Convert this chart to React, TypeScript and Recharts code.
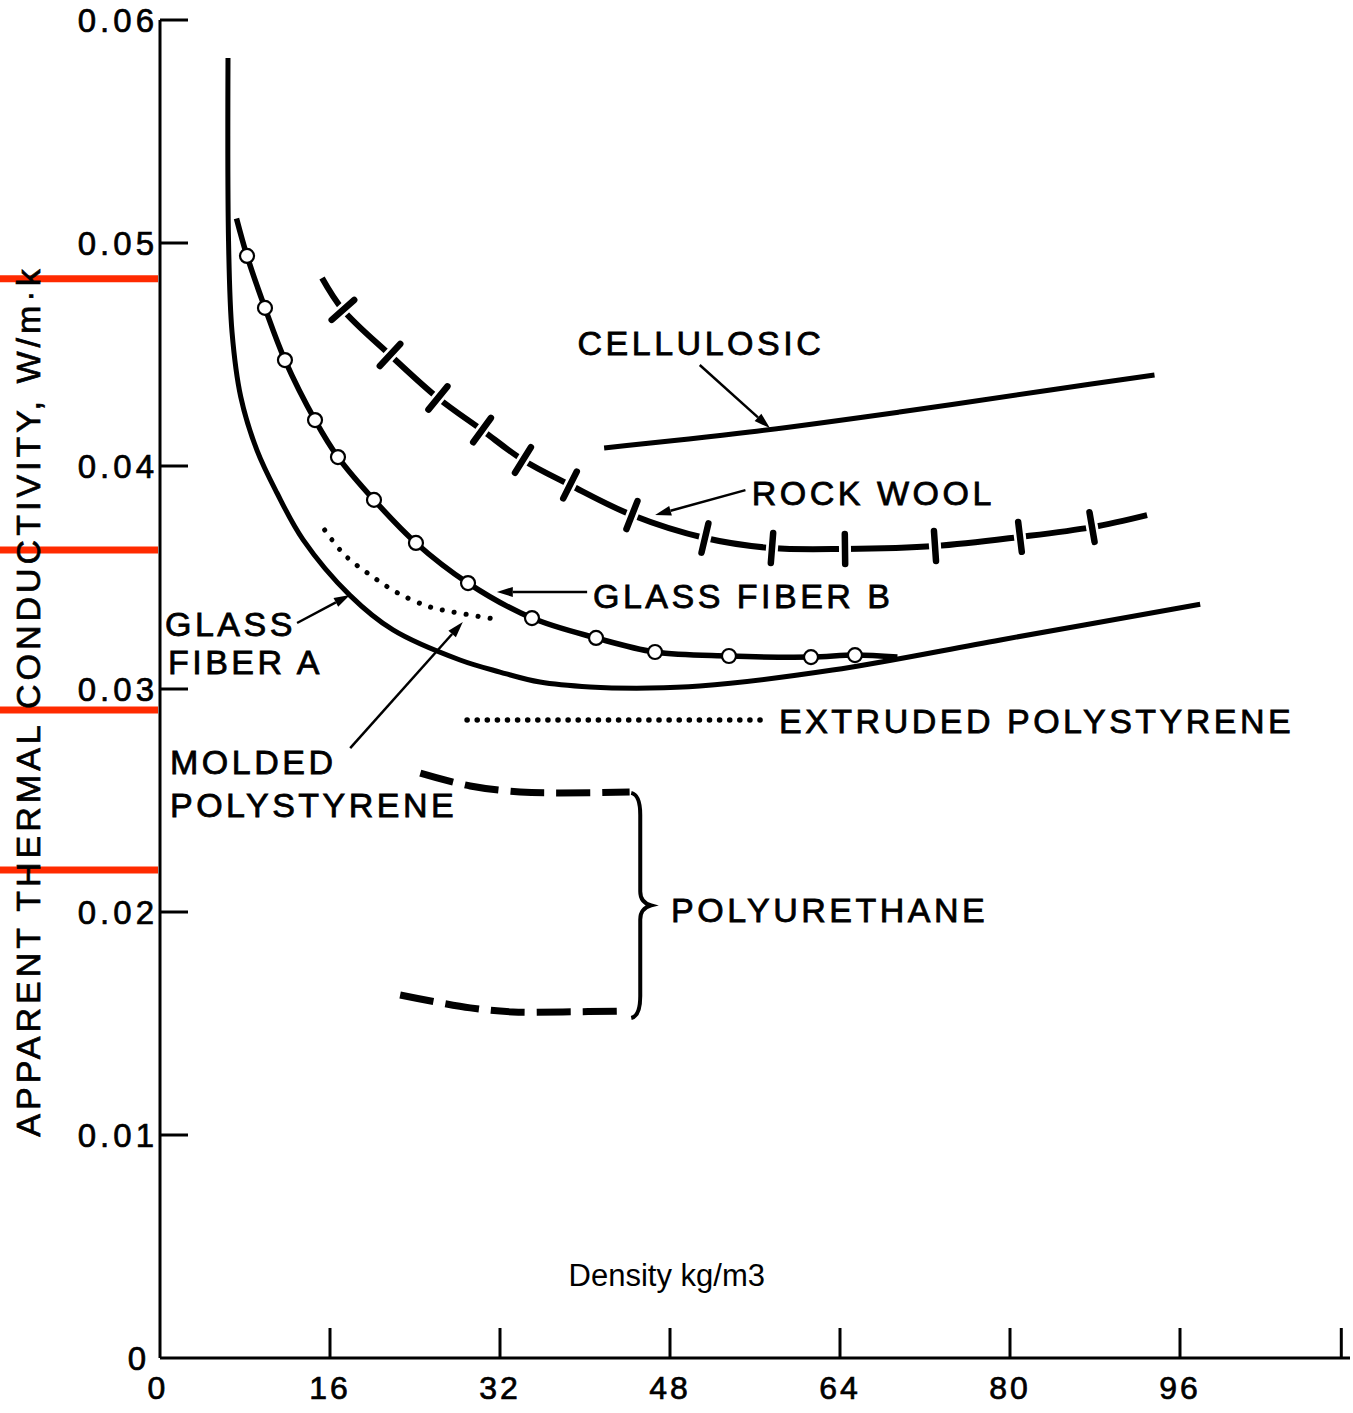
import { LineChart, Line, XAxis, YAxis, ReferenceLine, ReferenceDot } from "recharts";

const FONT = "'Liberation Sans', Arial, Helvetica, sans-serif";

// density (kg/m3) vs apparent thermal conductivity (W/m·K)
const glassA_x = [6.4, 6.45, 6.78, 7.6, 9.13, 11.0, 13.46, 17.88, 21.93, 28.24, 32, 35.76, 40.47, 46.1, 50.8, 63.3, 79.1, 97.9];
const glassA_y = [0.0583, 0.0501, 0.046, 0.0431, 0.0407, 0.0388, 0.0367, 0.0342, 0.03265, 0.0313, 0.03076, 0.03031, 0.03009, 0.03004, 0.03013, 0.03085, 0.0322, 0.0338];

const glassB_x = [7.2, 8.19, 9.88, 11.76, 14.59, 16.75, 20.14, 24.09, 28.99, 35.01, 41.04, 46.59, 53.55, 61.27, 65.41, 69.4];
const glassB_y = [0.0511, 0.04942, 0.04709, 0.04475, 0.04206, 0.0404, 0.03848, 0.03655, 0.03475, 0.03318, 0.03229, 0.03166, 0.03148, 0.03143, 0.03152, 0.03143];

const rockWool_x = [15.25, 17.22, 21.65, 26.16, 30.31, 34.16, 38.59, 44.42, 51.29, 57.6, 64.47, 72.94, 80.94, 87.72, 92.9];
const rockWool_y = [0.04843, 0.047, 0.04498, 0.04305, 0.04161, 0.04027, 0.03915, 0.0378, 0.03677, 0.03632, 0.03628, 0.03641, 0.03682, 0.03726, 0.0378];

const cellulosic_x = [41.8, 55.5, 69.6, 83.8, 93.6];
const cellulosic_y = [0.04081, 0.04152, 0.04242, 0.04341, 0.04408];

const molded_x = [15.5, 17.4, 19.8, 22.4, 25.4, 27.6, 32];
const molded_y = [0.03713, 0.036, 0.03511, 0.0343, 0.03368, 0.03345, 0.0331];

const extruded_x = [28.9, 57.4];
const extruded_y = [0.02861, 0.02861];

const puTop_x = [24.5, 29.2, 33.9, 37.6, 44.2];
const puTop_y = [0.02623, 0.02565, 0.02538, 0.02534, 0.02538];
const puBottom_x = [22.6, 29.2, 33.2, 37.9, 43.6];
const puBottom_y = [0.01628, 0.0157, 0.01552, 0.01552, 0.01556];

const xTicks = [0, 16, 32, 48, 64, 80, 96, 112];
const yTicks = [0, 0.01, 0.02, 0.03, 0.04, 0.05, 0.06];

// red marker bars at the left edge
const redMarks = [0.0484, 0.03623, 0.02906, 0.02188];

const labels = [
  { text: "CELLULOSIC", x: 39.3, y: 0.04552 },
  { text: "ROCK WOOL", x: 55.7, y: 0.03879 },
  { text: "GLASS FIBER B", x: 40.75, y: 0.03417 },
  { text: "GLASS", x: 0.47, y: 0.03291 },
  { text: "FIBER A", x: 0.75, y: 0.03121 },
  { text: "EXTRUDED POLYSTYRENE", x: 58.26, y: 0.02857 },
  { text: "MOLDED", x: 0.94, y: 0.02673 },
  { text: "POLYSTYRENE", x: 0.94, y: 0.0248 },
  { text: "POLYURETHANE", x: 48.1, y: 0.02009 },
];

const arrows = [
  { from: [50.8, 0.04453], to: [57.4, 0.0417] },
  { from: [55.1, 0.03892], to: [46.6, 0.0378] },
  { from: [40.2, 0.03435], to: [31.7, 0.03435] },
  { from: [12.9, 0.03296], to: [17.88, 0.03422] },
  { from: [17.9, 0.02735], to: [28.5, 0.033] },
];

const brace = { x: 45.2, top: 0.02534, bottom: 0.01525 };

const zip = (xs: number[], ys: number[]) => xs.map((x, i) => ({ x, y: ys[i] }));

// centripetal catmull-rom, works for the near vertical start of the glass fiber curve
const smooth = (ctx: any) => {
  let pts: number[][] = [];
  const d = (a: number[], b: number[]) => Math.sqrt(Math.hypot(b[0] - a[0], b[1] - a[1]));
  return {
    areaStart() {},
    areaEnd() {},
    lineStart() {
      pts = [];
    },
    point(x: number, y: number) {
      pts.push([+x, +y]);
    },
    lineEnd() {
      const n = pts.length;
      if (!n) return;
      ctx.moveTo(pts[0][0], pts[0][1]);
      for (let i = 0; i < n - 1; i++) {
        const p0 = pts[Math.max(i - 1, 0)];
        const p1 = pts[i];
        const p2 = pts[i + 1];
        const p3 = pts[Math.min(i + 2, n - 1)];
        const l01 = i > 0 ? d(p0, p1) : 0;
        const l12 = d(p1, p2);
        const l23 = i + 2 < n ? d(p2, p3) : 0;
        let c1 = p1;
        let c2 = p2;
        if (l01 > 1e-6) {
          const a = 2 * l01 * l01 + 3 * l01 * l12 + l12 * l12;
          const m = 3 * l01 * (l01 + l12);
          c1 = [0, 1].map((k) => (p1[k] * a - p0[k] * l12 * l12 + p2[k] * l01 * l01) / m);
        }
        if (l23 > 1e-6) {
          const b = 2 * l23 * l23 + 3 * l23 * l12 + l12 * l12;
          const m = 3 * l23 * (l23 + l12);
          c2 = [0, 1].map((k) => (p2[k] * b + p1[k] * l23 * l23 - p3[k] * l12 * l12) / m);
        }
        ctx.bezierCurveTo(c1[0], c1[1], c2[0], c2[1], p2[0], p2[1]);
      }
    },
  };
};

const OpenCircle = (p: any) => {
  const last = p.points ? p.points.length - 1 : -1;
  if (p.index === 0 || p.index === last) return <g key={p.key} />;
  return <circle key={p.key} cx={p.cx} cy={p.cy} r={7} fill="#fff" stroke="#000" strokeWidth={2.2} />;
};

const CrossTick = (p: any) => {
  const pts = p.points || [];
  const i = p.index;
  if (i === 0 || i === pts.length - 1 || !pts.length) return <g key={p.key} />;
  const a = pts[i - 1];
  const b = pts[i + 1];
  const dx = b.x - a.x;
  const dy = b.y - a.y;
  const len = Math.hypot(dx, dy) || 1;
  const tx = dx / len;
  const ty = dy / len;
  return (
    <g key={p.key}>
      <line x1={p.cx - tx * 6} y1={p.cy - ty * 6} x2={p.cx + tx * 6} y2={p.cy + ty * 6} stroke="#fff" strokeWidth={10} />
      <line x1={p.cx + ty * 15} y1={p.cy - tx * 15} x2={p.cx - ty * 15} y2={p.cy + tx * 15} stroke="#000" strokeWidth={6.5} strokeLinecap="round" />
    </g>
  );
};

const XTick = (p: any) => {
  const v = p.payload.value;
  return (
    <g>
      {v > 0 && <line x1={p.x} x2={p.x} y1={p.y} y2={p.y - 30} stroke="#000" strokeWidth={3} />}
      {v < 112 && (
        <text x={v === 0 ? p.x - 2 : p.x} y={p.y + 30} textAnchor="middle" dominantBaseline="central" fontFamily={FONT} fontSize={32} stroke="#000" strokeWidth={0.7} style={{ letterSpacing: 3 }} fill="#000">
          {v}
        </text>
      )}
    </g>
  );
};

const YTick = (p: any) => {
  const v = p.payload.value;
  return (
    <g>
      {v > 0 && <line x1={p.x} x2={p.x + 28} y1={p.y} y2={p.y} stroke="#000" strokeWidth={3} />}
      <text x={v === 0 ? p.x - 10 : p.x - 2} y={p.y} textAnchor="end" dominantBaseline="central" fontFamily={FONT} fontSize={33} stroke="#000" strokeWidth={0.7} style={{ letterSpacing: 4 }} fill="#000">
        {v === 0 ? "0" : v.toFixed(2)}
      </text>
    </g>
  );
};

const Arrow = (p: any) => {
  const dx = p.x2 - p.x1;
  const dy = p.y2 - p.y1;
  const len = Math.hypot(dx, dy) || 1;
  const ux = dx / len;
  const uy = dy / len;
  const bx = p.x2 - ux * 16;
  const by = p.y2 - uy * 16;
  return (
    <g>
      <line x1={p.x1} y1={p.y1} x2={bx} y2={by} stroke="#000" strokeWidth={2.5} />
      <polygon points={`${p.x2},${p.y2} ${bx - uy * 5},${by + ux * 5} ${bx + uy * 5},${by - ux * 5}`} fill="#000" />
    </g>
  );
};

const Brace = (p: any) => {
  const x = p.x1;
  const t = p.y1;
  const b = p.y2;
  const m = (t + b) / 2;
  const d = `M ${x - 9} ${t} Q ${x} ${t + 2} ${x} ${t + 22} L ${x} ${m - 14} Q ${x} ${m - 3} ${x + 11} ${m} Q ${x} ${m + 3} ${x} ${m + 14} L ${x} ${b - 22} Q ${x} ${b - 2} ${x - 9} ${b}`;
  return <path d={d} fill="none" stroke="#000" strokeWidth={4} />;
};

const RedBar = (p: any) => <line x1={0} x2={p.x1 - 2} y1={p.y1} y2={p.y1} stroke="#ff2a00" strokeWidth={7} />;

const textProps = { fontFamily: FONT, fontSize: 34, fill: "#000", stroke: "#000", strokeWidth: 0.8, style: { letterSpacing: 3.5 } };

export default function App() {
  return (
    <div style={{ position: "absolute", left: 0, top: 0, background: "#fff" }}>
      <LineChart width={1353} height={1413} margin={{ top: 20, right: 3, left: 0, bottom: 0 }}>
        <XAxis
          type="number"
          dataKey="x"
          domain={[0, 112]}
          ticks={xTicks}
          height={55}
          tickSize={0}
          tickMargin={0}
          tickLine={false}
          tick={<XTick />}
          axisLine={{ stroke: "#000", strokeWidth: 3 }}
          allowDataOverflow
        />
        <YAxis
          type="number"
          dataKey="y"
          domain={[0, 0.06]}
          ticks={yTicks}
          width={160}
          tickSize={0}
          tickMargin={0}
          tickLine={false}
          tick={<YTick />}
          axisLine={{ stroke: "#000", strokeWidth: 3 }}
          allowDataOverflow
          label={{
            content: (lp: any) => {
              const vb = lp.viewBox || { x: 0, y: 20, height: 1338 };
              const cx = vb.x + 28;
              const cy = vb.y + vb.height / 2 + 12;
              return (
                <text x={cx} y={cy} transform={`rotate(-90 ${cx} ${cy})`} textAnchor="middle" dominantBaseline="central" fontFamily={FONT} fontSize={34} stroke="#000" strokeWidth={0.7} style={{ letterSpacing: 4 }} fill="#000">
                  APPARENT THERMAL CONDUCTIVITY, W/m·k
                </text>
              );
            },
          }}
        />

        <Line data={zip(glassA_x, glassA_y)} dataKey="y" type={smooth as any} stroke="#000" strokeWidth={5} dot={false} isAnimationActive={false} />
        <Line data={zip(cellulosic_x, cellulosic_y)} dataKey="y" type={smooth as any} stroke="#000" strokeWidth={5} dot={false} isAnimationActive={false} />
        <Line data={zip(rockWool_x, rockWool_y)} dataKey="y" type={smooth as any} stroke="#000" strokeWidth={6} dot={CrossTick} isAnimationActive={false} />
        <Line data={zip(glassB_x, glassB_y)} dataKey="y" type={smooth as any} stroke="#000" strokeWidth={5.5} dot={OpenCircle} isAnimationActive={false} />
        <Line data={zip(molded_x, molded_y)} dataKey="y" type={smooth as any} stroke="#000" strokeWidth={5} strokeDasharray="0.1 12" strokeLinecap="round" dot={false} isAnimationActive={false} />
        <Line data={zip(extruded_x, extruded_y)} dataKey="y" type="linear" stroke="#000" strokeWidth={5.5} strokeDasharray="0.1 10" strokeLinecap="round" dot={false} isAnimationActive={false} />
        <Line data={zip(puTop_x, puTop_y)} dataKey="y" type={smooth as any} stroke="#000" strokeWidth={7} strokeDasharray="34 12" dot={false} isAnimationActive={false} />
        <Line data={zip(puBottom_x, puBottom_y)} dataKey="y" type={smooth as any} stroke="#000" strokeWidth={7} strokeDasharray="34 12" dot={false} isAnimationActive={false} />

        <ReferenceLine
          segment={[{ x: brace.x, y: brace.top }, { x: brace.x, y: brace.bottom }]}
          ifOverflow="visible"
          shape={Brace}
        />
        {arrows.map((a, i) => (
          <ReferenceLine
            key={`arrow-${i}`}
            segment={[{ x: a.from[0], y: a.from[1] }, { x: a.to[0], y: a.to[1] }]}
            ifOverflow="visible"
            shape={Arrow}
          />
        ))}
        {labels.map((l, i) => (
          <ReferenceDot
            key={`label-${i}`}
            x={l.x}
            y={l.y}
            r={0}
            ifOverflow="visible"
            shape={(p: any) => (
              <text x={p.cx} y={p.cy} dominantBaseline="central" {...textProps}>
                {l.text}
              </text>
            )}
          />
        ))}
        <ReferenceDot
          x={47.7}
          y={0.00368}
          r={0}
          ifOverflow="visible"
          shape={(p: any) => (
            <text x={p.cx} y={p.cy} textAnchor="middle" dominantBaseline="central" fontFamily={FONT} fontSize={31} fill="#000">
              Density kg/m3
            </text>
          )}
        />
        {redMarks.map((y, i) => (
          <ReferenceLine key={`red-${i}`} y={y} ifOverflow="visible" shape={RedBar} />
        ))}
      </LineChart>
    </div>
  );
}
